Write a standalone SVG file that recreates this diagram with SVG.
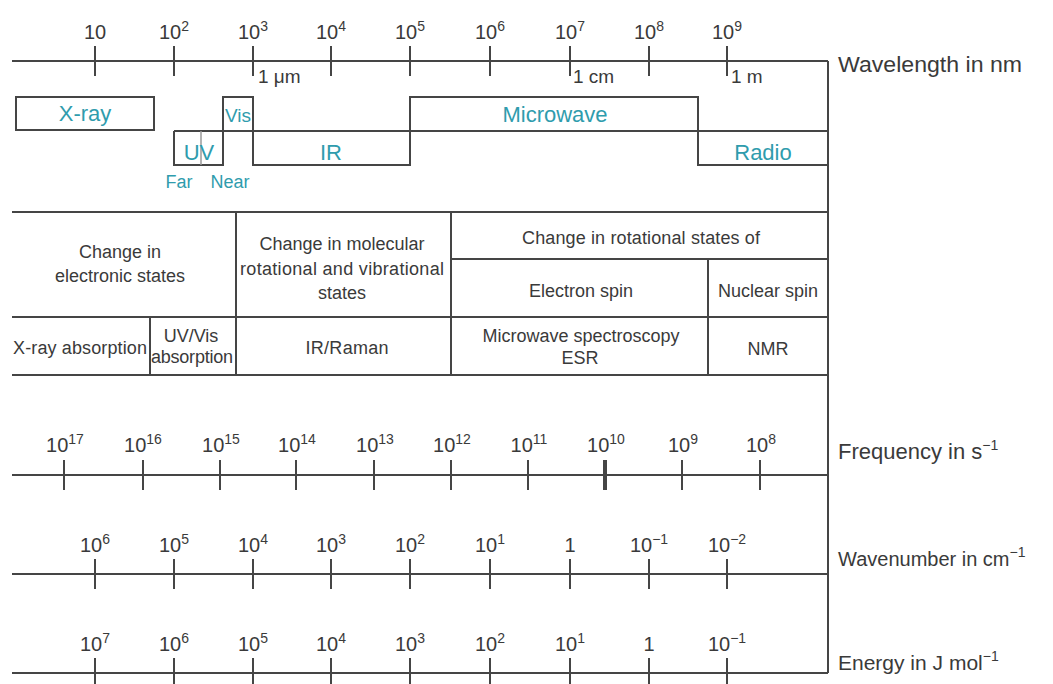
<svg xmlns="http://www.w3.org/2000/svg" width="1053" height="684" viewBox="0 0 1053 684">
<style>
.ax{stroke:#454545;stroke-width:2;fill:none}
.tk{stroke:#454545;stroke-width:2}
.bd{stroke:#454545;stroke-width:2;fill:none}
.tl{font-family:"Liberation Sans",Arial,sans-serif;font-size:20px;fill:#3a3a3a;text-anchor:middle}
.sp{font-size:14px}
.rl{font-family:"Liberation Sans",Arial,sans-serif;font-size:22px;fill:#3a3a3a}
.bl{font-family:"Liberation Sans",Arial,sans-serif;font-size:22px;fill:#2f9cad;text-anchor:middle}
.tt{font-family:"Liberation Sans",Arial,sans-serif;font-size:18px;fill:#3a3a3a;text-anchor:middle}
.un{font-family:"Liberation Sans",Arial,sans-serif;font-size:19px;fill:#3a3a3a}
</style>
<rect width="1053" height="684" fill="#fff"/>

<g id="frame">
<path class="ax" d="M828,61 V673"/>
</g>

<g id="wavelength-axis">
<path class="ax" d="M12,61 H828"/>
<g class="tk">
<path d="M95,46V76M174,46V76M253,46V76M331,46V76M410,46V76M490,46V76M570,46V76M649,46V76M727,46V76"/>
</g>
<text class="tl" x="95" y="39">10</text>
<text class="tl" x="174" y="39">10<tspan class="sp" dy="-8">2</tspan></text>
<text class="tl" x="253" y="39">10<tspan class="sp" dy="-8">3</tspan></text>
<text class="tl" x="331" y="39">10<tspan class="sp" dy="-8">4</tspan></text>
<text class="tl" x="410" y="39">10<tspan class="sp" dy="-8">5</tspan></text>
<text class="tl" x="490" y="39">10<tspan class="sp" dy="-8">6</tspan></text>
<text class="tl" x="570" y="39">10<tspan class="sp" dy="-8">7</tspan></text>
<text class="tl" x="649" y="39">10<tspan class="sp" dy="-8">8</tspan></text>
<text class="tl" x="727" y="39">10<tspan class="sp" dy="-8">9</tspan></text>
<text class="un" x="258" y="83">1 μm</text>
<text class="un" x="573" y="83">1 cm</text>
<text class="un" x="731" y="83">1 m</text>
<text class="rl" x="838" y="72" textLength="184" lengthAdjust="spacingAndGlyphs">Wavelength in nm</text>
</g>

<g id="bands">
<g id="band-xray">
<rect class="bd" x="16" y="97" width="138" height="33"/>
<text class="bl" x="85" y="121">X-ray</text>
</g>
<g id="band-outline">
<path class="bd" d="M174,131 H828"/>
<path class="bd" d="M174,131 V165 H223 V97 H253 V165 H410 V97 H698 V165 H828"/>
<path d="M201,131 V165" stroke="#9a9a9a" stroke-width="1.5"/>
</g>
<g id="band-uv"><text class="bl" x="199" y="160">UV</text></g>
<g id="band-vis"><text class="bl" x="238" y="122" style="font-size:19px">Vis</text></g>
<g id="band-ir"><text class="bl" x="331" y="160">IR</text></g>
<g id="band-microwave"><text class="bl" x="555" y="122">Microwave</text></g>
<g id="band-radio"><text class="bl" x="763" y="160">Radio</text></g>
<g id="band-far"><text class="bl" x="179" y="188" style="font-size:18px">Far</text></g>
<g id="band-near"><text class="bl" x="230" y="188" style="font-size:18px">Near</text></g>
</g>

<g id="table">
<path class="bd" d="M12,212 H828 M12,317 H828 M12,375 H828 M451,259 H828 M236,212 V375 M451,212 V375 M708,259 V375 M150,317 V375"/>
<g id="cell-electronic">
<text class="tt" x="120" y="258">Change in</text>
<text class="tt" x="120" y="282">electronic states</text>
</g>
<g id="cell-molecular">
<text class="tt" x="342" y="250">Change in molecular</text>
<text class="tt" x="342" y="275" textLength="204">rotational and vibrational</text>
<text class="tt" x="342" y="299">states</text>
</g>
<g id="cell-rotational"><text class="tt" x="641" y="244" textLength="238">Change in rotational states of</text></g>
<g id="cell-electron-spin"><text class="tt" x="581" y="297">Electron spin</text></g>
<g id="cell-nuclear-spin"><text class="tt" x="768" y="297">Nuclear spin</text></g>
<g id="cell-xray-abs"><text class="tt" x="80" y="354" textLength="134">X-ray absorption</text></g>
<g id="cell-uvvis-abs">
<text class="tt" x="191" y="342">UV/Vis</text>
<text class="tt" x="192" y="363" textLength="82">absorption</text>
</g>
<g id="cell-ir-raman"><text class="tt" x="347" y="354" textLength="83">IR/Raman</text></g>
<g id="cell-microwave-esr">
<text class="tt" x="581" y="342">Microwave spectroscopy</text>
<text class="tt" x="580" y="364">ESR</text>
</g>
<g id="cell-nmr"><text class="tt" x="768" y="355">NMR</text></g>
</g>

<g id="frequency-axis">
<path class="ax" d="M12,475 H828"/>
<path class="tk" d="M64,460V490M143,460V490M220,460V490M296,460V490M374,460V490M451,460V490M528,460V490M682,460V490M760,460V490"/>
<path d="M605,460V490" stroke="#454545" stroke-width="4"/>
<text class="tl" x="65" y="452">10<tspan class="sp" dy="-8">17</tspan></text>
<text class="tl" x="143" y="452">10<tspan class="sp" dy="-8">16</tspan></text>
<text class="tl" x="221" y="452">10<tspan class="sp" dy="-8">15</tspan></text>
<text class="tl" x="297" y="452">10<tspan class="sp" dy="-8">14</tspan></text>
<text class="tl" x="375" y="452">10<tspan class="sp" dy="-8">13</tspan></text>
<text class="tl" x="452" y="452">10<tspan class="sp" dy="-8">12</tspan></text>
<text class="tl" x="529" y="452">10<tspan class="sp" dy="-8">11</tspan></text>
<text class="tl" x="606" y="452">10<tspan class="sp" dy="-8">10</tspan></text>
<text class="tl" x="683" y="452">10<tspan class="sp" dy="-8">9</tspan></text>
<text class="tl" x="761" y="452">10<tspan class="sp" dy="-8">8</tspan></text>
<text class="rl" x="838" y="459">Frequency in s<tspan class="sp" dy="-9">−1</tspan></text>
</g>

<g id="wavenumber-axis">
<path class="ax" d="M12,574 H828"/>
<path class="tk" d="M95,559V589M174,559V589M253,559V589M331,559V589M410,559V589M490,559V589M570,559V589M649,559V589M727,559V589"/>
<text class="tl" x="95" y="552">10<tspan class="sp" dy="-8">6</tspan></text>
<text class="tl" x="174" y="552">10<tspan class="sp" dy="-8">5</tspan></text>
<text class="tl" x="253" y="552">10<tspan class="sp" dy="-8">4</tspan></text>
<text class="tl" x="331" y="552">10<tspan class="sp" dy="-8">3</tspan></text>
<text class="tl" x="410" y="552">10<tspan class="sp" dy="-8">2</tspan></text>
<text class="tl" x="490" y="552">10<tspan class="sp" dy="-8">1</tspan></text>
<text class="tl" x="570" y="552">1</text>
<text class="tl" x="649" y="552">10<tspan class="sp" dy="-8">−1</tspan></text>
<text class="tl" x="727" y="552">10<tspan class="sp" dy="-8">−2</tspan></text>
<text class="rl" x="838" y="566" style="font-size:20px">Wavenumber in cm<tspan class="sp" dy="-9">−1</tspan></text>
</g>

<g id="energy-axis">
<path class="ax" d="M12,673 H828"/>
<path class="tk" d="M95,658V688M174,658V688M253,658V688M331,658V688M410,658V688M490,658V688M570,658V688M649,658V688M727,658V688"/>
<text class="tl" x="95" y="651">10<tspan class="sp" dy="-8">7</tspan></text>
<text class="tl" x="174" y="651">10<tspan class="sp" dy="-8">6</tspan></text>
<text class="tl" x="253" y="651">10<tspan class="sp" dy="-8">5</tspan></text>
<text class="tl" x="331" y="651">10<tspan class="sp" dy="-8">4</tspan></text>
<text class="tl" x="410" y="651">10<tspan class="sp" dy="-8">3</tspan></text>
<text class="tl" x="490" y="651">10<tspan class="sp" dy="-8">2</tspan></text>
<text class="tl" x="570" y="651">10<tspan class="sp" dy="-8">1</tspan></text>
<text class="tl" x="649" y="651">1</text>
<text class="tl" x="727" y="651">10<tspan class="sp" dy="-8">−1</tspan></text>
<text class="rl" x="838" y="670" style="font-size:21px">Energy in J mol<tspan class="sp" dy="-9">−1</tspan></text>
</g>
</svg>
